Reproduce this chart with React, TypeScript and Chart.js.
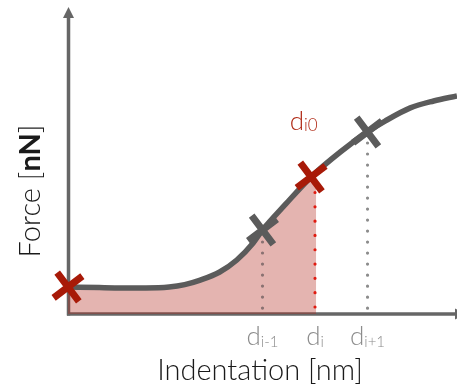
import React, { useEffect, useRef } from "react";
import { Chart, registerables } from "chart.js";

Chart.register(...registerables);

const curveX = [0, 8, 14, 20, 26, 30, 34, 39, 43.4, 47.6, 50, 56, 62.5, 70, 77, 81.5, 88, 94, 100];
const curveY = [9, 8.8, 8.7, 8.7, 9, 9.8, 11.3, 14, 18, 23.7, 28, 36.7, 45.7, 54, 60.7, 64.3, 68.7, 71, 72.7];

const fillEndX = 63.8;

const markerX = [0, 50, 62.5, 77];
const markerY = [9, 28, 45.7, 60.7];
const markerColors = ["#a81a08", "#5b5b5b", "#a81a08", "#5b5b5b"];

const tickX = [50, 63.5, 77];
const tickBase = ["d", "d", "d"];
const tickSub = ["i-1", "i", "i+1"];

const guideTopY = [24, 40.5, 57];
const guideColors = ["#8a7272", "#e01a10", "#8c8c8c"];
const guideDash = [11, 14.3, 11];

const xTitle = "Indentation [nm]";
const yTitleParts = ["Force [", "nN", "]"];
const noteBase = "d";
const noteSub = "i0";
const noteX = 57;
const noteY = 61.3;

function interpY(x: number): number {
  for (let i = 0; i < curveX.length - 1; i++) {
    if (x >= curveX[i] && x <= curveX[i + 1]) {
      const t = (x - curveX[i]) / (curveX[i + 1] - curveX[i]);
      return curveY[i] + t * (curveY[i + 1] - curveY[i]);
    }
  }
  return curveY[curveY.length - 1];
}

const FONT = "Lato, 'Open Sans', sans-serif";

export default function App() {
  const ref = useRef<HTMLCanvasElement | null>(null);
  useEffect(() => {
    document.body.style.margin = "0";
    const canvas = ref.current;
    if (!canvas) return;
    const curve = curveX.map((x, i) => ({ x, y: curveY[i] }));
    const fillPts = curve.filter((p) => p.x < fillEndX);
    fillPts.push({ x: fillEndX, y: interpY(fillEndX) });

    const guides = tickX.map((x, i) => ({
      type: "line" as const,
      data: [
        { x, y: guideTopY[i] },
        { x, y: 0.5 },
      ],
      borderColor: guideColors[i],
      borderWidth: 3.2,
      borderDash: [0.01, guideDash[i]],
      borderCapStyle: "round" as const,
      pointRadius: 0,
      fill: false,
      order: 3,
      clip: false as const,
    }));

    const axesPlugin = {
      id: "axesPlugin",
      beforeDatasetsDraw(chart: any) {
        const { ctx, chartArea } = chart;
        const { left, right, bottom } = chartArea;
        ctx.save();
        ctx.strokeStyle = "#666666";
        ctx.fillStyle = "#666666";
        ctx.lineWidth = 3.5;
        ctx.beginPath();
        ctx.moveTo(left + 0.5, bottom + 1.5);
        ctx.lineTo(left + 0.5, 16);
        ctx.stroke();
        ctx.beginPath();
        ctx.moveTo(left - 1, bottom);
        ctx.lineTo(right - 2, bottom);
        ctx.stroke();
        ctx.beginPath();
        ctx.moveTo(left + 0.5, 7);
        ctx.lineTo(left + 6, 18);
        ctx.lineTo(left - 5, 18);
        ctx.closePath();
        ctx.fill();
        ctx.beginPath();
        ctx.moveTo(right + 9, bottom);
        ctx.lineTo(right - 2, bottom - 5.5);
        ctx.lineTo(right - 2, bottom + 5.5);
        ctx.closePath();
        ctx.fill();
        ctx.restore();
      },
      afterDraw(chart: any) {
        const { ctx, scales } = chart;
        const xs = scales.x;
        const ys = scales.y;
        ctx.save();
        ctx.textBaseline = "alphabetic";
        tickX.forEach((x, i) => {
          ctx.font = `300 26px ${FONT}`;
          const wb = ctx.measureText(tickBase[i]).width;
          ctx.font = `300 15px ${FONT}`;
          const ws = ctx.measureText(tickSub[i]).width;
          const cx = xs.getPixelForValue(x);
          const start = cx - (wb + ws) / 2;
          ctx.fillStyle = "#8c8c8c";
          ctx.font = `300 26px ${FONT}`;
          ctx.fillText(tickBase[i], start, 345);
          ctx.font = `300 15px ${FONT}`;
          ctx.fillText(tickSub[i], start + wb, 347);
        });
        {
          const px = xs.getPixelForValue(noteX);
          const py = ys.getPixelForValue(noteY);
          ctx.fillStyle = "#b02a16";
          ctx.font = `300 26px ${FONT}`;
          const wb = ctx.measureText(noteBase).width;
          ctx.textAlign = "left";
          ctx.fillText(noteBase, px, py);
          ctx.font = `300 17px ${FONT}`;
          ctx.fillText(noteSub, px + wb, py + 1);
        }
        ctx.fillStyle = "#1a1a1a";
        ctx.font = `300 29px ${FONT}`;
        ctx.textAlign = "center";
        ctx.fillText(xTitle, 260, 380);
        ctx.translate(40, 191);
        ctx.rotate(-Math.PI / 2);
        ctx.textAlign = "left";
        const fonts = [`300 29px ${FONT}`, `bold 29px ${FONT}`, `300 29px ${FONT}`];
        let total = 0;
        const widths = yTitleParts.map((t, i) => {
          ctx.font = fonts[i];
          const w = ctx.measureText(t).width;
          total += w;
          return w;
        });
        let cx = -total / 2;
        yTitleParts.forEach((t, i) => {
          ctx.font = fonts[i];
          ctx.fillText(t, cx, 0);
          cx += widths[i];
        });
        ctx.restore();
      },
    };

    const chart = new Chart(canvas, {
      type: "line",
      data: {
        datasets: [
          {
            data: markerX.map((x, i) => ({ x, y: markerY[i] })),
            showLine: false,
            pointStyle: "crossRot",
            pointRadius: 18,
            pointBorderWidth: 7,
            pointRotation: 8,
            pointBorderColor: markerColors,
            pointBackgroundColor: markerColors,
            order: 1,
            clip: false as const,
          },
          ...guides,
          {
            data: curve,
            borderColor: "#5b5b5b",
            borderWidth: 5.5,
            cubicInterpolationMode: "monotone",
            pointRadius: 0,
            fill: false,
            order: 2,
            clip: false as const,
          },
          {
            data: fillPts,
            borderWidth: 0,
            borderColor: "rgba(0,0,0,0)",
            backgroundColor: "rgba(178,41,29,0.35)",
            cubicInterpolationMode: "monotone",
            pointRadius: 0,
            fill: "origin",
            order: 5,
          },
        ] as any,
      },
      options: {
        animation: false,
        responsive: false,
        maintainAspectRatio: false,
        events: [],
        layout: { autoPadding: false, padding: { left: 68, right: 0, top: 14, bottom: 73 } },
        plugins: {
          legend: { display: false },
          tooltip: { enabled: false },
        },
        scales: {
          x: { type: "linear", min: 0, max: 100, display: false },
          y: { type: "linear", min: 0, max: 100, display: false },
        },
      },
      plugins: [axesPlugin],
    });
    return () => chart.destroy();
  }, []);
  return (
    <div style={{ position: "absolute", left: 0, top: 0, width: 457, height: 387 }}>
      <canvas ref={ref} width={457} height={387} style={{ width: 457, height: 387 }} />
    </div>
  );
}
